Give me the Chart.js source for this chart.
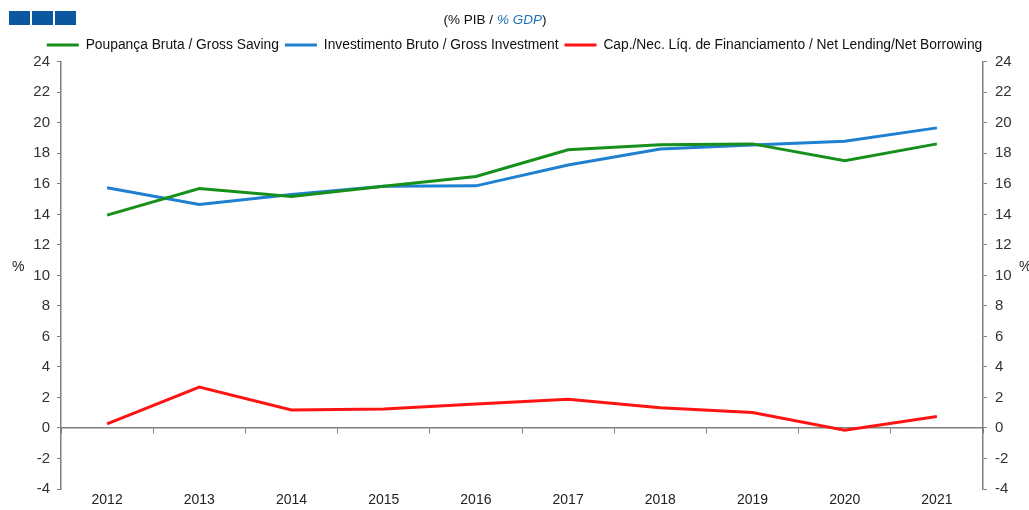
<!DOCTYPE html>
<html lang="pt">
<head>
    <meta charset="UTF-8">
    <title>Poupança e Investimento (% PIB)</title>
    <script src="https://cdn.jsdelivr.net/npm/chart.js"></script>
    <style>
        body {
            margin: 0;
            background: #fff;
            font-family: "Liberation Sans", Arial, sans-serif;
        }
        .frame {
            position: relative;
            width: 1029px;
            height: 510px;
            overflow: hidden;
        }
        canvas {
            position: absolute;
            left: 0;
            top: 0;
        }
        .boxes {
            position: absolute;
            left: 9px;
            top: 11px;
            display: flex;
            gap: 2px;
        }
        .boxes span {
            width: 21px;
            height: 14px;
            background: #0b57a0;
        }
        .header {
            position: absolute;
            left: 0;
            width: 990px;
            top: 12px;
            text-align: center;
            font-size: 13.5px;
            color: #111;
        }
        .header em { color: #1f6fb8; }
        .unit {
            position: absolute;
            top: 258px;
            font-size: 14px;
            color: #222;
        }
    </style>
</head>
<body>
    <div class="frame">
        <canvas id="chart" width="1029" height="510"></canvas>
        <div class="boxes"><span></span><span></span><span></span></div>
        <div class="header">(% PIB / <em>% GDP</em>)</div>
        <div class="unit" style="left: 12px;">%</div>
        <div class="unit" style="left: 1019px;">%</div>
    </div>

    <script>
        // valores (% do PIB)
        const years = ["2012", "2013", "2014", "2015", "2016", "2017", "2018", "2019", "2020", "2021"];
        const grossSaving = [13.95, 15.7, 15.17, 15.85, 16.48, 18.23, 18.57, 18.62, 17.51, 18.62];
        const grossInvestment = [15.74, 14.65, 15.3, 15.85, 15.87, 17.24, 18.29, 18.55, 18.79, 19.67];
        const netLending = [0.27, 2.68, 1.18, 1.25, 1.57, 1.88, 1.32, 1.02, -0.15, 0.75];
        const seriesNames = [
            "Poupança Bruta / Gross Saving",
            "Investimento Bruto / Gross Investment",
            "Cap./Nec. Líq. de Financiamento / Net Lending/Net Borrowing"
        ];
        const axisMin = -4, axisMax = 24, axisStep = 2;

        const axisGray = "#7f7f7f";
        const family = "'Liberation Sans', Arial, sans-serif";

        function line(label, data, color) {
            return {
                label: label,
                data: data,
                borderColor: color,
                backgroundColor: color,
                borderWidth: 3,
                pointRadius: 0,
                tension: 0
            };
        }

        const yAxis = (side, width, pad) => ({
            position: side,
            min: axisMin,
            max: axisMax,
            ticks: { stepSize: axisStep, color: "#333", font: { family: family, size: 15 }, padding: pad },
            grid: { drawOnChartArea: false, color: axisGray, tickLength: 4 },
            border: { color: axisGray, width: 1.5 },
            afterFit: scale => { scale.width = width; }
        });

        new Chart(document.getElementById("chart"), {
            type: "line",
            data: {
                labels: years,
                datasets: [
                    line(seriesNames[0], grossSaving, "#17901b"),
                    line(seriesNames[1], grossInvestment, "#1f80d2"),
                    line(seriesNames[2], netLending, "#ff1414")
                ]
            },
            options: {
                responsive: false,
                animation: false,
                layout: { padding: { top: 32, left: 0, right: 0, bottom: 0 } },
                plugins: {
                    tooltip: { enabled: false },
                    legend: {
                        position: "top",
                        labels: {
                            usePointStyle: true,
                            pointStyle: "line",
                            pointStyleWidth: 32,
                            boxHeight: 3,
                            padding: 6,
                            color: "#111",
                            font: { family: family, size: 13.8 }
                        }
                    }
                },
                scales: {
                    x: {
                        offset: true,
                        grid: { display: false, drawTicks: false },
                        border: { display: false },
                        ticks: { color: "#222", font: { family: family, size: 14 }, padding: 3, maxRotation: 0 },
                        afterFit: scale => { scale.height = 21; }
                    },
                    // eixo do zero, com as marcas entre os anos
                    x0: {
                        type: "category",
                        axis: "x",
                        position: { y: 0 },
                        offset: true,
                        ticks: { display: false },
                        grid: { drawOnChartArea: false, offset: true, color: axisGray, tickLength: 5 },
                        border: { color: axisGray, width: 1.5 }
                    },
                    y: yAxis("left", 61, 7),
                    y2: yAxis("right", 46, 8)
                }
            }
        });
    </script>
</body>
</html>
